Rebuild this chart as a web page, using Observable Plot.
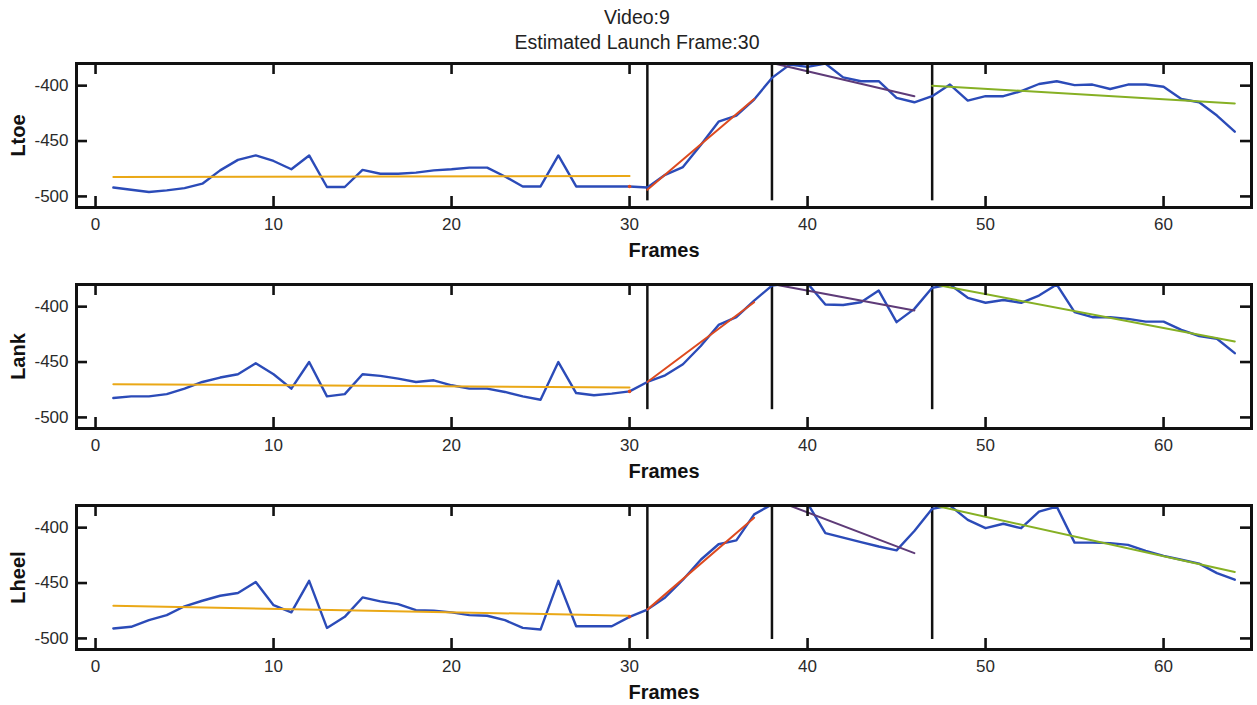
<!DOCTYPE html>
<html>
<head>
<meta charset="utf-8">
<script src="https://cdn.jsdelivr.net/npm/d3@7"></script>
<script src="https://cdn.jsdelivr.net/npm/@observablehq/plot@0.6"></script>
<style>
  body { margin: 0; background: #fff; font-family: "Liberation Sans", Arial, Helvetica, sans-serif; }
  #title { box-sizing: border-box; height: 55px; padding: 4.5px 0 0 17px; text-align: center;
           font-size: 19.5px; line-height: 25px; color: #222; }
  #panels svg { display: block; }
</style>
</head>
<body>
<div id="title"><div id="t1"></div><div id="t2"></div></div>
<div id="panels"></div>
<script>
// Marker trajectories (vertical position) per frame, with piecewise linear fits.
const videoId = 9;
const launchFrame = 30;
const frames = d3.range(1, 65);

const ltoe = [
  -492, -494, -496, -494.5, -492.5, -488.5, -476.5, -467, -463, -468,
  -475.5, -463, -491.5, -491.5, -476, -479.5, -479.5, -478.5, -476.5, -475.5,
  -474, -474, -482, -491, -491, -463, -491, -491, -491, -491,
  -492, -480.5, -473.5, -453.5, -432.5, -427, -412.5, -393, -381, -383,
  -380, -392.5, -396, -396, -411, -415, -409.5, -399, -413.5, -409.5,
  -409.5, -405, -398.5, -396, -399.5, -399, -403, -399, -399, -401,
  -412, -415, -427, -441.5
];
const lank = [
  -482.5, -481, -481, -479, -474, -468, -464, -461, -451, -461,
  -474, -450, -481, -479, -461, -462.5, -465, -468, -466.5, -471,
  -474, -474, -477, -481, -484, -450, -478, -480, -478.5, -476.5,
  -468, -462, -452, -435.5, -416.5, -409.5, -394.5, -381, -379, -379,
  -398, -398.5, -396, -385.5, -414, -402, -383, -380, -392, -396.5,
  -394, -396.5, -390, -380, -405, -409.5, -409.5, -411, -413.5, -413.5,
  -421, -426.5, -429, -442
];
const lheel = [
  -491, -489.5, -483.5, -479, -471, -466, -461.5, -459, -449, -470,
  -476.5, -448, -490.5, -480.5, -463, -466.5, -469, -474.5, -475, -476.5,
  -479, -479.5, -483.5, -490.5, -492, -448, -489, -489, -489, -480.5,
  -474, -463, -447, -429, -415, -411.5, -388, -379, -376, -378,
  -405, -409, -413, -417, -420.5, -403, -383, -380, -393, -400.5,
  -396.5, -400.5, -385.5, -381, -413.5, -413.5, -414, -415.5, -421, -425.5,
  -429, -432.5, -441, -447
];

// Fit segments: frame spans shared by all markers, [start, end] values per marker
const fitSpans = [[1, 30], [31, 37], [38, 46], [47, 64]];
const fitColors = ["#eaa816", "#dd4a1f", "#5e3b78", "#86b024"];
const ltoeFits  = [[-482.5, -481.5], [-494, -412], [-379.5, -409.5], [-400, -416]];
const lankFits  = [[-470, -473], [-468, -396], [-379.5, -403.5], [-379.5, -431.5]];
const lheelFits = [[-470.5, -479.5], [-474, -391], [-374, -423], [-379.5, -440]];

// Phase boundaries
const boundaryFrames = [31, 38, 47];
const boundaryBottoms = [-504, -493, -501];

const xTicks = [0, 10, 20, 30, 40, 50, 60];
const yTicks = [-500, -450, -400];
const xDomain = [-1.07, 64.94];
const yDomain = [-510, -380];

const panels = [
  {label: "Ltoe",  values: ltoe,  fits: ltoeFits,  bottom: boundaryBottoms[0]},
  {label: "Lank",  values: lank,  fits: lankFits,  bottom: boundaryBottoms[1]},
  {label: "Lheel", values: lheel, fits: lheelFits, bottom: boundaryBottoms[2]}
];

document.getElementById("t1").textContent = `Video:${videoId}`;
document.getElementById("t2").textContent = `Estimated Launch Frame:${launchFrame}`;

const W = 1257, mL = 76, mR = 6, mT = 8, boxH = 144;
const boxW = W - mL - mR;
const tickLen = 11;

panels.forEach((p, k) => {
  const last = k === panels.length - 1;
  const height = last ? 208 : 221;
  const mB = height - mT - boxH;
  const series = frames.map((f, i) => ({frame: f, value: p.values[i]}));
  const fitMarks = fitSpans.map((span, i) =>
    Plot.line(
      [{frame: span[0], value: p.fits[i][0]}, {frame: span[1], value: p.fits[i][1]}],
      {x: "frame", y: "value", stroke: fitColors[i], strokeWidth: 2, clip: true}
    )
  );
  const chart = Plot.plot({
    width: W, height,
    marginLeft: mL, marginRight: mR, marginTop: mT, marginBottom: mB,
    style: {fontFamily: '"Liberation Sans", Arial, Helvetica, sans-serif', fontSize: "17px", background: "#fff", color: "#222"},
    x: {domain: xDomain},
    y: {domain: yDomain},
    marks: [
      Plot.ruleX(boundaryFrames, {x: d => d, y1: p.bottom, y2: yDomain[1], stroke: "#111", strokeWidth: 2.5}),
      Plot.line(series, {x: "frame", y: "value", stroke: "#2b4bb8", strokeWidth: 2.4, clip: true}),
      ...fitMarks,
      Plot.dot([launchFrame], {x: d => d, y: d => p.values[frames.indexOf(d)], r: 1.8, fill: "#dd4a1f"}),
      Plot.frame({stroke: "#111", strokeWidth: 3}),
      // inward tick marks on all four sides
      Plot.tickX(xTicks, {x: d => d, insetTop: boxH - tickLen, stroke: "#111", strokeWidth: 2.6}),
      Plot.tickX(xTicks, {x: d => d, insetBottom: boxH - tickLen, stroke: "#111", strokeWidth: 2.6}),
      Plot.tickY(yTicks, {y: d => d, insetRight: boxW - tickLen, stroke: "#111", strokeWidth: 2.6}),
      Plot.tickY(yTicks, {y: d => d, insetLeft: boxW - tickLen, stroke: "#111", strokeWidth: 2.6}),
      Plot.axisX(xTicks, {tickSize: 0, tickPadding: 10, tickFormat: d => String(d), label: null, fill: "#2a2a2a"}),
      Plot.axisY(yTicks, {tickSize: 0, tickPadding: 8, tickFormat: d => String(d), label: null, fill: "#2a2a2a"}),
      Plot.text([p.label], {text: d => d, frameAnchor: "left", textAnchor: "middle", lineAnchor: "middle", dx: -58, rotate: -90, fontSize: 20, fontWeight: "bold", fill: "#111"}),
      Plot.text(["Frames"], {text: d => d, frameAnchor: "bottom", textAnchor: "middle", lineAnchor: "middle", dy: 43, fontSize: 20, fontWeight: "bold", fill: "#111"})
    ]
  });
  document.getElementById("panels").appendChild(chart);
});
</script>
</body>
</html>
